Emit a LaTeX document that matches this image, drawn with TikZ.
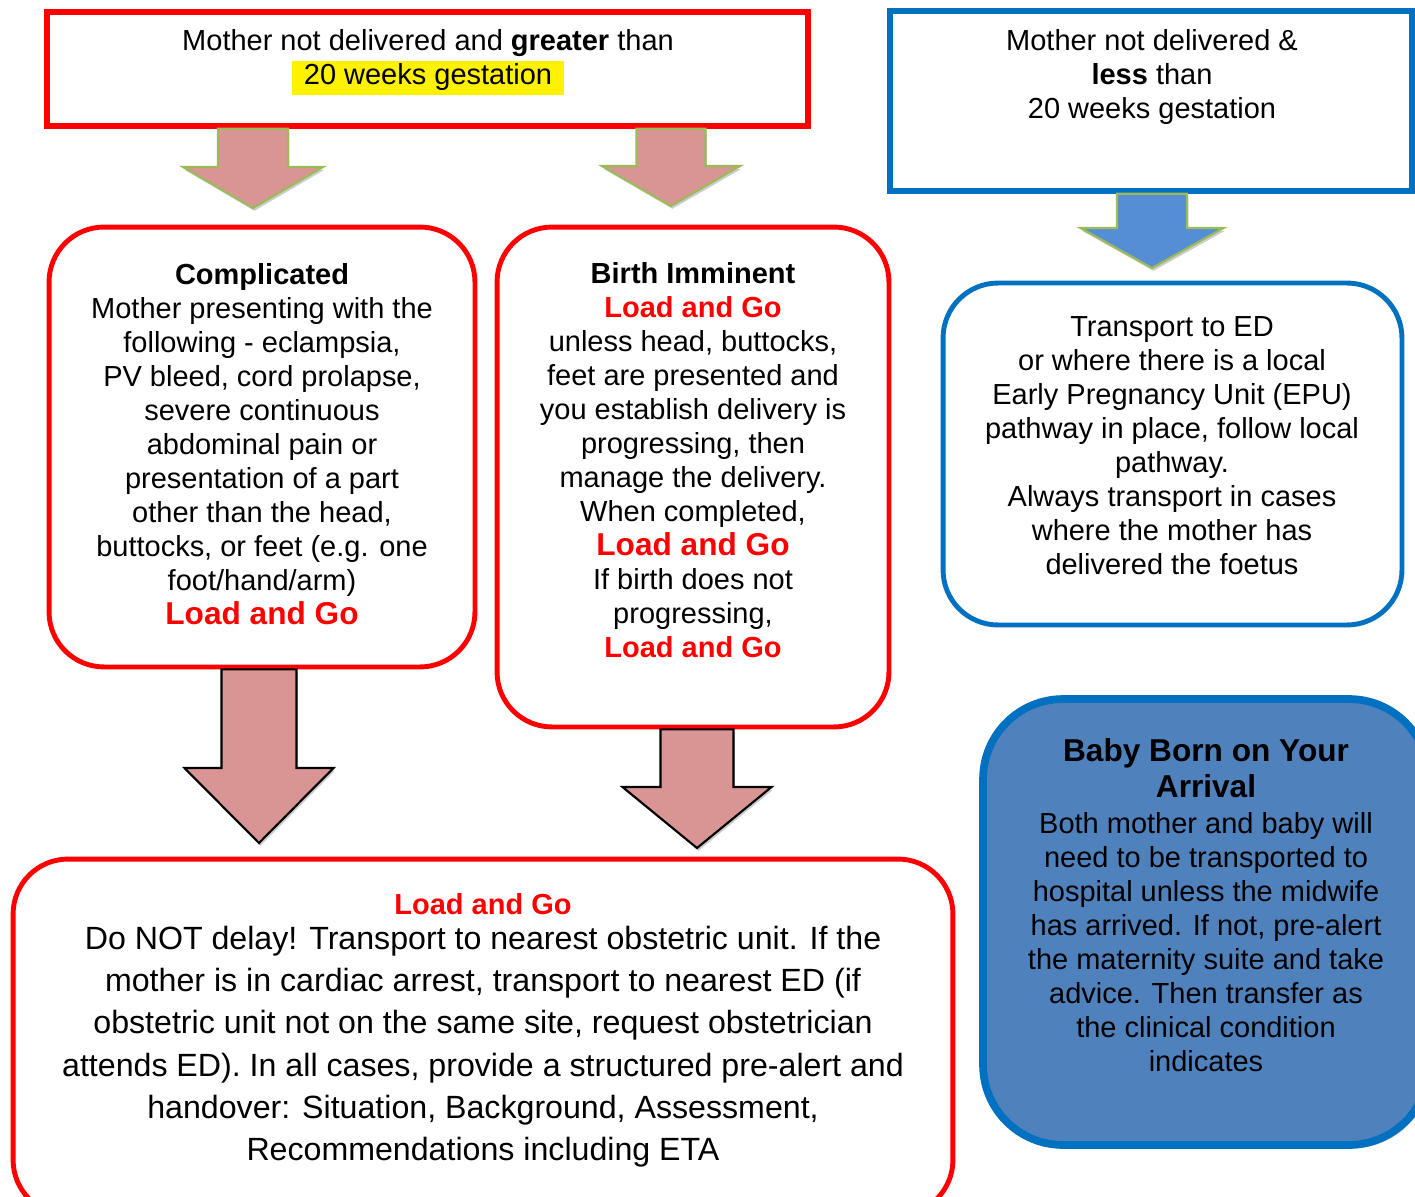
\documentclass[tikz,border=0pt]{standalone}
\usepackage{fontspec}
\setmainfont{Liberation Sans}
\usetikzlibrary{calc,shadows}

\definecolor{bordblue}{RGB}{0,112,192}
\definecolor{arrowpink}{RGB}{217,149,148}
\definecolor{arrowgreen}{RGB}{155,187,89}
\definecolor{arrowblue}{RGB}{85,142,213}
\definecolor{babyblue}{RGB}{79,129,189}

\newcommand{\redbold}[1]{\textcolor{red}{\bfseries #1}}
\newcommand{\bigload}{{\fontsize{18pt}{19.35pt}\selectfont\redbold{Load and Go}}}
\newcommand{\hilite}[1]{{\setlength{\fboxsep}{0pt}\colorbox{yellow}{\rule[-5.8pt]{0pt}{19.35pt}\kern6.5pt#1\kern6.5pt}}}

% block arrow: style, start, tip, half shaft, half head, head length
\newcommand{\blockarrow}[6]{%
  \draw[#1] ($(#2)+(-#4,0)$) -- ($(#3)+(-#4,-#6)$) -- ($(#3)+(-#5,-#6)$) -- (#3)
    -- ($(#3)+(#5,-#6)$) -- ($(#3)+(#4,-#6)$) -- ($(#2)+(#4,0)$) -- cycle;}

\begin{document}
\begin{tikzpicture}[x=0.02cm, y=-0.02cm,
    every node/.style={font=\fontsize{16.5pt}{19.35pt}\selectfont},
    txt/.style={align=center, inner sep=0pt},
    sqbox/.style={draw, line width=3.2pt, inner sep=0pt},
    rbox/.style={draw, line width=2.8pt, rounded corners=1.1cm, inner sep=0pt},
    pinkarrow/.style={fill=arrowpink, draw=arrowgreen, line width=1.2pt,
      drop shadow={shadow xshift=.8pt, shadow yshift=-1.6pt, opacity=.4}},
    bluearrow/.style={pinkarrow, fill=arrowblue},
    bigarrow/.style={pinkarrow, draw=black}]
	\useasboundingbox (0,0) rectangle (1415,1196);
	\clip (0,0) rectangle (1415,1196);

	% Boxes
	\node[sqbox, draw=red, minimum width=15.22cm, minimum height=2.28cm] (gt) at (427.5,69) {};
	\node[sqbox, draw=bordblue, minimum width=10.44cm, minimum height=3.6cm] (lt) at (1151,101) {};
	\node[rbox, draw=red, minimum width=8.52cm, minimum height=8.8cm] (cmp) at (262,447) {};
	\node[rbox, draw=red, minimum width=7.84cm, minimum height=10cm] (bir) at (693,477) {};
	\node[rbox, draw=bordblue, minimum width=9.18cm, minimum height=6.84cm] (ed) at (1172.5,454) {};
	\node[rbox, draw=bordblue, line width=4.4pt, fill=babyblue, rounded corners=1.6cm,
	  minimum width=8.92cm, minimum height=8.92cm,
	  drop shadow={shadow xshift=1.5pt, shadow yshift=-2pt, opacity=.35}] (baby) at (1206,922) {};
	\node[rbox, draw=red, minimum width=18.8cm, minimum height=7.12cm] (lng) at (483,1037) {};

	% Texts
	\node[txt] (gttxt) at (428,62) {Mother not delivered and \textbf{greater} than\\ \hilite{20 weeks gestation}};
	\node[txt] (lttxt) at (1152,77) {Mother not delivered \&\\ \textbf{less} than\\ 20 weeks gestation};
	\node[txt] (cmptxt) at (262,444.5) {\textbf{Complicated}\\ Mother presenting with the\\ following - eclampsia,\\
	  PV bleed, cord prolapse,\\ severe continuous\\ abdominal pain or\\ presentation of a part\\
	  other than the head,\\ buttocks, or feet (e.g. one\\ foot/hand/arm)\\ \bigload};
	\node[txt] (birtxt) at (693,460) {\textbf{Birth Imminent}\\ \redbold{Load and Go}\\ unless head, buttocks,\\
	  feet are presented and\\ you establish delivery is\\ progressing, then\\ manage the delivery.\\
	  When completed,\\ \bigload\\ If birth does not\\ progressing,\\ \redbold{Load and Go}};
	\node[txt] (edtxt) at (1172,446) {Transport to ED\\ or where there is a local\\ Early Pregnancy Unit (EPU)\\
	  pathway in place, follow local\\ pathway.\\ Always transport in cases\\ where the mother has\\ delivered the foetus};
	\node[txt] (babytxt) at (1206,905) {{\fontsize{18pt}{20.4pt}\selectfont\bfseries Baby Born on Your}\\[1pt]
	  {\fontsize{18pt}{20.4pt}\selectfont\bfseries Arrival}\\[1pt] Both mother and baby will\\ need to be transported to\\
	  hospital unless the midwife\\ has arrived. If not, pre-alert\\ the maternity suite and take\\
	  advice. Then transfer as\\ the clinical condition\\ indicates};
	\node[txt, font=\fontsize{18.3pt}{24.1pt}\selectfont] (lngtxt) at (483,1030.5) {{\fontsize{16.5pt}{19.35pt}\selectfont\redbold{Load and Go}}\\[-4.4pt]
	  Do NOT delay! Transport to nearest obstetric unit. If the\\
	  mother is in cardiac arrest, transport to nearest ED (if\\
	  obstetric unit not on the same site, request obstetrician\\
	  attends ED). In all cases, provide a structured pre-alert and\\
	  handover: Situation, Background, Assessment,\\
	  Recommendations including ETA};

	% Arrows
	\coordinate (a1) at (253,208);
	\coordinate (a2) at (671,206);
	\coordinate (a3) at (1152,268);
	\coordinate (a4) at (259,843);
	\coordinate (a5) at (697,848);
	\blockarrow{pinkarrow}{a1 |- gt.south}{a1}{35}{70}{41}
	\blockarrow{pinkarrow}{a2 |- gt.south}{a2}{34.5}{69}{40}
	\blockarrow{bluearrow}{a3 |- lt.south}{a3}{35}{71.5}{40}
	\blockarrow{bigarrow}{a4 |- cmp.south}{a4}{37.5}{74.5}{75}
	\blockarrow{bigarrow}{a5 |- bir.south}{a5}{36.5}{74.5}{61}
\end{tikzpicture}
\end{document}
